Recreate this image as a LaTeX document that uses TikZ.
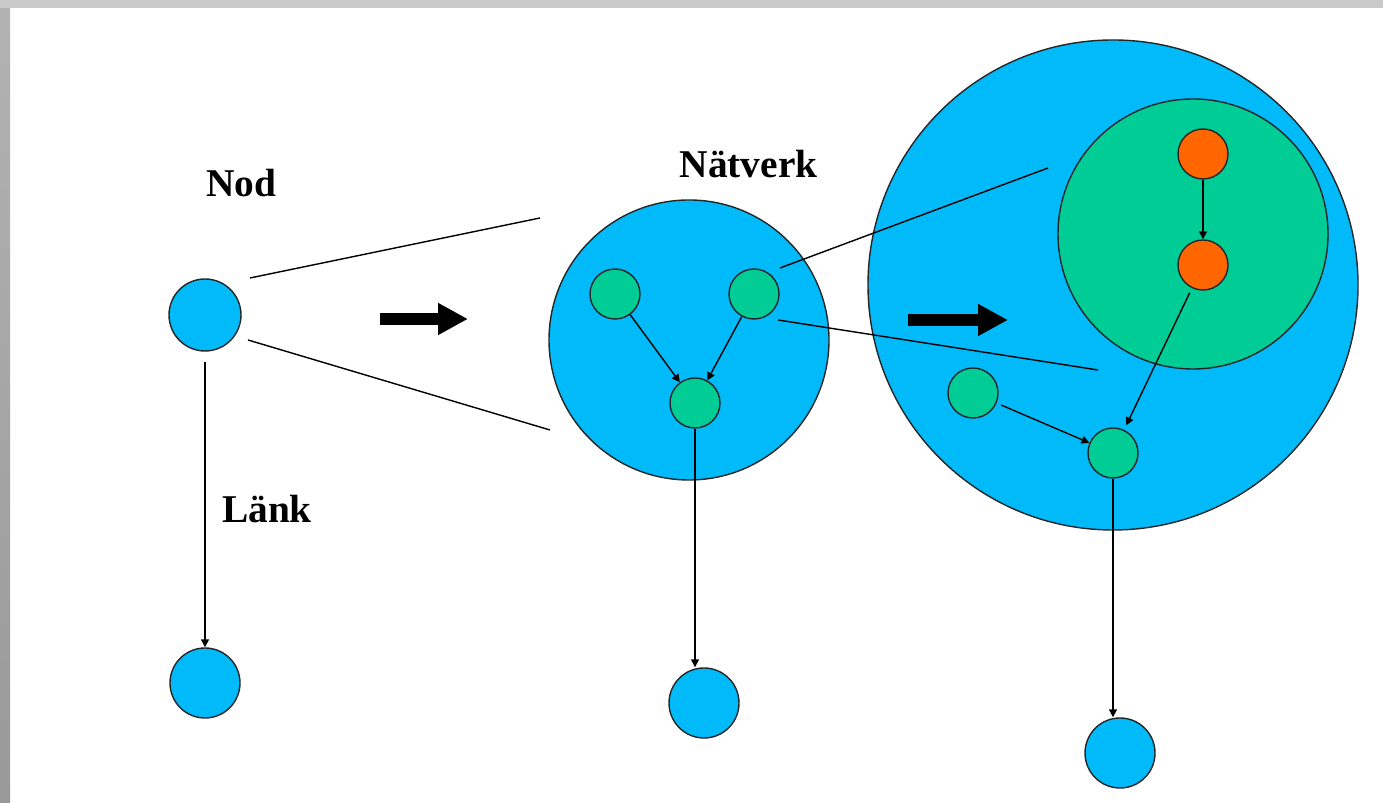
\documentclass[tikz,border=0pt]{standalone}
\usepackage{fontspec}
\setmainfont{Liberation Serif}
\usetikzlibrary{arrows.meta,positioning,calc}

\definecolor{netblue}{RGB}{0,186,250}
\definecolor{subgreen}{RGB}{0,204,150}
\definecolor{coreorange}{RGB}{255,102,0}

\begin{document}
\begin{tikzpicture}[
  every node/.style={font=\fontsize{22.4}{26}\selectfont\bfseries},
  dot/.style={circle, draw=black!85, line width=0.8pt, inner sep=0pt},
  netdot/.style={dot, fill=netblue},
  subdot/.style={dot, fill=subgreen},
  coredot/.style={dot, fill=coreorange},
  link/.style={-{Triangle[length=4.5pt,width=4.5pt]}, line width=0.8pt},
  zoomline/.style={line width=0.8pt},
  bigarrow/.style={-{Triangle[length=6mm,width=6mm]}, line width=2.4mm},
]

%% ── Page frame ───────────────────────────────────────────────────────────────
\useasboundingbox (0,0) rectangle (27.66,16.06);
\fill[white] (0,0) rectangle (27.66,16.06);
\shade[top color=gray!60, bottom color=gray!80] (0,0) rectangle (0.20,16.06);
\fill[gray!42] (0,15.90) rectangle (27.66,16.06);

%% ════════════════════════════════════════════════════════════════════════════
%% STAGE 1 — a single node and a link
%% ════════════════════════════════════════════════════════════════════════════
\node (nodlabel) at (4.82,12.39) {Nod};
\node[netdot, minimum size=1.44cm] (A1) at (4.10,9.76) {};
\node[netdot, minimum size=1.40cm] (A2) at (4.10,2.40) {};
\draw[link, shorten <=0.2cm] (A1) -- (A2);
\node (lanklabel) at (5.34,5.87) {Länk};

%% ════════════════════════════════════════════════════════════════════════════
%% STAGE 2 — the node seen as a network
%% ════════════════════════════════════════════════════════════════════════════
\node (netlabel) at (14.97,12.77) {Nätverk};
\node[netdot, minimum size=5.60cm] (B) at (13.78,9.26) {};
\node[subdot, minimum size=1.00cm] (B1) at (12.30,10.18) {};
\node[subdot, minimum size=1.00cm] (B2) at (15.08,10.18) {};
\node[subdot, minimum size=1.00cm] (B3) at (13.90,8.00) {};
\node[netdot, minimum size=1.40cm] (B4) at (14.08,2.00) {};
\draw[link] (B1) -- (B3);
\draw[link] (B2) -- (B3);
\draw[link] (B3.south) -- (B3.south |- B4.north);

%% zoom lines from the single node
\coordinate (fanA-s1) at (5.00,10.50);
\coordinate (fanA-e1) at (10.80,11.70);
\coordinate (fanA-s2) at (4.96,9.26);
\coordinate (fanA-e2) at (11.00,7.46);
\draw[zoomline] (fanA-s1) -- (fanA-e1);
\draw[zoomline] (fanA-s2) -- (fanA-e2);

\draw[bigarrow] (7.60,9.68) -- (9.36,9.68);

%% ════════════════════════════════════════════════════════════════════════════
%% STAGE 3 — a network node seen as a sub-network
%% ════════════════════════════════════════════════════════════════════════════
\node[netdot, minimum size=9.80cm] (C) at (22.26,10.36) {};
\node[subdot, minimum size=5.40cm] (G) at (23.86,11.38) {};
\node[coredot, minimum size=1.00cm] (O1) at (24.06,12.98) {};
\node[coredot, minimum size=1.00cm] (O2) at (24.06,10.76) {};
\node[subdot, minimum size=1.00cm] (C1) at (19.46,8.20) {};
\node[subdot, minimum size=1.00cm] (C2) at (22.26,7.00) {};
\node[netdot, minimum size=1.40cm] (C3) at (22.40,1.00) {};
\draw[link] (O1) -- (O2);
\draw[link, shorten <=0.1cm, shorten >=0.1cm] (O2) -- (C2);
\draw[link, shorten <=0.1cm] (C1) -- (C2);
\draw[link] (C2.south) -- (C2.south |- C3.north);

%% zoom lines from the upper right green node
\coordinate (fanB-s1) at (15.60,10.70);
\coordinate (fanB-e1) at (20.96,12.70);
\coordinate (fanB-s2) at (15.56,9.66);
\coordinate (fanB-e2) at (21.96,8.66);
\draw[zoomline] (fanB-s1) -- (fanB-e1);
\draw[zoomline] (fanB-s2) -- (fanB-e2);

\draw[bigarrow] (18.16,9.66) -- (20.16,9.66);

\end{tikzpicture}
\end{document}
